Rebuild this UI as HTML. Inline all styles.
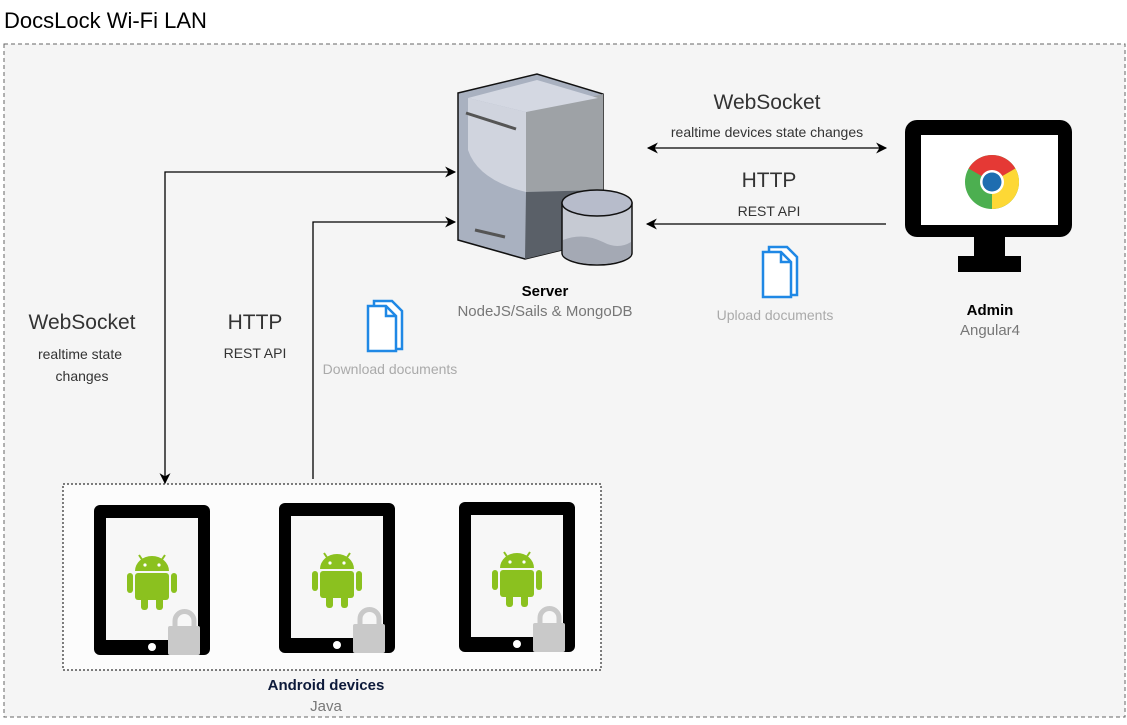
<!DOCTYPE html>
<html><head><meta charset="utf-8"><style>
body{margin:0;background:#fff;}
svg text{font-family:"Liberation Sans",sans-serif;}
</style></head><body>
<svg width="1127" height="720" viewBox="0 0 1127 720" xmlns="http://www.w3.org/2000/svg">
<defs>
<marker id="ah" viewBox="0 0 10 10" refX="9" refY="5" markerWidth="12" markerHeight="11" orient="auto-start-reverse" markerUnits="userSpaceOnUse">
<path d="M0,0 L10,5 L0,10 L3,5 z" fill="#000"/></marker>
<g id="tab">
<rect x="0" y="0" width="116" height="150" rx="6" fill="#000"/>
<rect x="12" y="13" width="92" height="122" fill="#f7f7f7"/>
<circle cx="58" cy="142" r="4" fill="#fff"/>
<g fill="#8bc11f">
<path d="M41,66 a17,15 0 0 1 34,0 z"/>
<rect x="41" y="68" width="34" height="27" rx="3"/>
<rect x="33" y="68" width="6" height="20" rx="3"/>
<rect x="77" y="68" width="6" height="20" rx="3"/>
<rect x="47" y="91" width="7" height="14" rx="3"/>
<rect x="62" y="91" width="7" height="14" rx="3"/>
<path d="M45,50 l4,6 M71,50 l-4,6" stroke="#8bc11f" stroke-width="2"/>
</g>
<circle cx="51" cy="60" r="1.6" fill="#fff"/><circle cx="65" cy="60" r="1.6" fill="#fff"/>
<path d="M81,124 v-8 a9.5,9.5 0 0 1 19,0 v8" fill="none" stroke="#c9c9c9" stroke-width="5"/>
<rect x="74" y="121" width="32" height="29" rx="2" fill="#c9c9c9"/>
</g>
<g id="doc" fill="none" stroke="#1f88e5" stroke-width="2.5">
<path d="M8,2 h18 l10,10 v38 h-28 z" fill="#fff"/>
<path d="M2,7 h18 l10,10 v35 h-28 z" fill="#fff"/>
<path d="M20,7 v10 h10"/>
</g>
</defs>
<rect x="0" y="0" width="1127" height="720" fill="#fff"/>
<rect x="4" y="44" width="1121" height="673" fill="#f5f5f5" stroke="#666" stroke-dasharray="4,3"/>
<text x="4" y="28" font-size="22" fill="#000">DocsLock Wi-Fi LAN</text>

<!-- server -->
<path d="M458,93 L537,74 L603,94 L603,240 L525,259 L458,240 Z" fill="#a9b1c0" stroke="#111" stroke-width="1.5"/>
<path d="M526,112 L603,94 L603,190 L526,192 Z" fill="#9ea2a6"/>
<path d="M468,98 L537,80 L598,98 L526,112 Z" fill="#d4d8e2"/>
<path d="M468,98 L526,112 L526,192 Q478,180 468,150 Z" fill="#d0d4de"/>
<path d="M526,192 L603,190 L603,240 L525,259 Z" fill="#5a6068"/>
<path d="M466,113 L516,129" stroke="#555" stroke-width="3"/>
<path d="M475,230 L505,237" stroke="#555" stroke-width="3"/>
<path d="M562,203 v50 a35,12 0 0 0 70,0 v-50 z" fill="#c6cad3" stroke="#111" stroke-width="1.5"/>
<path d="M563,240 q20,-8 40,2 q15,8 28,0 v13 a35,12 0 0 1 -68,0 z" fill="#a4a9b4"/>
<ellipse cx="597" cy="203" rx="35" ry="13" fill="#b7bccb" stroke="#111" stroke-width="1.5"/>
<text x="545" y="296" font-size="15" font-weight="bold" text-anchor="middle">Server</text>
<text x="545" y="316" font-size="15" fill="#777" text-anchor="middle">NodeJS/Sails &amp; MongoDB</text>

<!-- monitor -->
<rect x="905" y="120" width="167" height="117" rx="12" fill="#000"/>
<rect x="921" y="135" width="137" height="90" fill="#fff"/>
<rect x="974" y="235" width="31" height="24" fill="#000"/>
<rect x="958" y="256" width="63" height="16" fill="#000"/>
<circle cx="992" cy="182" r="27" fill="#4caf50"/>
<path d="M992,182 L968.6,168.5 A27,27 0 0 1 1015.4,168.5 Z" fill="#e53935"/>
<path d="M992,182 L1015.4,168.5 A27,27 0 0 1 992,209 Z" fill="#fdd835"/>
<circle cx="992" cy="182" r="12" fill="#fff"/>
<circle cx="992" cy="182" r="9.5" fill="#1e6db0"/>
<text x="990" y="315" font-size="15" font-weight="bold" text-anchor="middle">Admin</text>
<text x="990" y="335" font-size="15" fill="#777" text-anchor="middle">Angular4</text>

<!-- connectors -->
<path d="M648,148 H886" stroke="#000" stroke-width="1.3" fill="none" marker-start="url(#ah)" marker-end="url(#ah)"/>
<path d="M886,224 H647" stroke="#000" stroke-width="1.3" fill="none" marker-end="url(#ah)"/>
<path d="M165,483 V172 H455" stroke="#000" stroke-width="1.3" fill="none" marker-start="url(#ah)" marker-end="url(#ah)"/>
<path d="M313,479 V222 H455" stroke="#000" stroke-width="1.3" fill="none" marker-end="url(#ah)"/>

<text x="767" y="109" font-size="21" fill="#333" text-anchor="middle">WebSocket</text>
<text x="767" y="137" font-size="14" fill="#333" text-anchor="middle">realtime devices state changes</text>
<text x="769" y="187" font-size="21" fill="#333" text-anchor="middle">HTTP</text>
<text x="769" y="216" font-size="14" fill="#333" text-anchor="middle">REST API</text>
<text x="82" y="329" font-size="21" fill="#333" text-anchor="middle">WebSocket</text>
<text x="80" y="359" font-size="14" fill="#333" text-anchor="middle">realtime state</text>
<text x="82" y="381" font-size="14" fill="#333" text-anchor="middle">changes</text>
<text x="255" y="329" font-size="21" fill="#333" text-anchor="middle">HTTP</text>
<text x="255" y="358" font-size="14" fill="#333" text-anchor="middle">REST API</text>

<use href="#doc" x="366" y="299"/>
<text x="390" y="374" font-size="14" fill="#aaa" text-anchor="middle">Download documents</text>
<use href="#doc" x="761" y="245"/>
<text x="775" y="320" font-size="14" fill="#aaa" text-anchor="middle">Upload documents</text>

<!-- android -->
<rect x="63" y="484" width="538" height="186" fill="#fcfcfc" stroke="#000" stroke-dasharray="2,2"/>
<use href="#tab" x="94" y="505"/>
<use href="#tab" x="279" y="503"/>
<use href="#tab" x="459" y="502"/>
<text x="326" y="690" font-size="15" font-weight="bold" fill="#0d1a3a" text-anchor="middle">Android devices</text>
<text x="326" y="711" font-size="15" fill="#777" text-anchor="middle">Java</text>
</svg>
</body></html>
